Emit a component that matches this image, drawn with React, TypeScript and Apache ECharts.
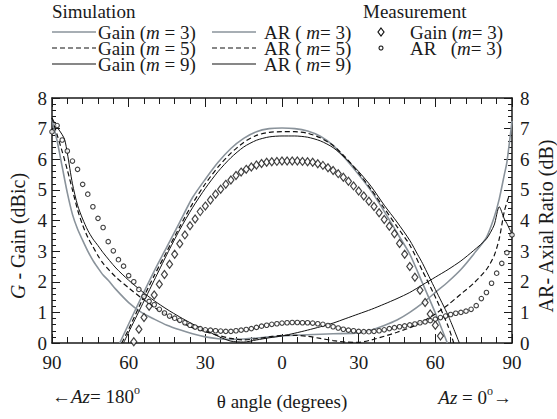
import React, { useEffect, useRef } from "react";
import * as echarts from "echarts";

// ---------- Data (theta in degrees: negative = Az 180 side, positive = Az 0 side) ----------
const xTickLabels = ["90", "60", "30", "0", "30", "60", "90"];

// Simulated gain (dBic)
const gainM3Theta = [-63.5, -60, -55, -50, -45, -40, -35, -30, -25, -20, -15, -10, -5, 0, 5, 10, 15, 20, 25, 30, 35, 40, 45, 50, 55, 60, 64.7];
const gainM3 = [0, 0.62, 1.5, 2.35, 3.15, 3.95, 4.75, 5.35, 5.9, 6.35, 6.68, 6.9, 7.0, 7.02, 7.0, 6.92, 6.75, 6.45, 6.0, 5.5, 4.95, 4.3, 3.6, 2.9, 1.95, 0.98, 0];

const gainM5Theta = [-62.7, -60, -55, -50, -45, -40, -35, -30, -25, -20, -15, -10, -5, 0, 5, 10, 15, 20, 25, 30, 35, 40, 45, 50, 55, 60, 65, 67.2];
const gainM5 = [0, 0.45, 1.35, 2.2, 3.0, 3.8, 4.55, 5.2, 5.75, 6.2, 6.55, 6.78, 6.88, 6.9, 6.9, 6.85, 6.7, 6.45, 6.05, 5.55, 5.0, 4.4, 3.8, 3.2, 2.35, 1.5, 0.55, 0];

const gainM9Theta = [-62, -60, -55, -50, -45, -40, -35, -30, -25, -20, -15, -10, -5, 0, 5, 10, 15, 20, 25, 30, 35, 40, 45, 50, 53, 55, 60, 65, 69.4];
const gainM9 = [0, 0.35, 1.2, 2.05, 2.9, 3.7, 4.42, 5.05, 5.6, 6.05, 6.4, 6.62, 6.73, 6.76, 6.76, 6.72, 6.6, 6.38, 6.02, 5.6, 5.1, 4.5, 3.95, 3.35, 2.9, 2.6, 1.75, 0.9, 0];

// Simulated axial ratio (dB)
const arM3Theta = [-90, -88, -86, -84, -82, -80, -78, -76, -74, -72, -70, -68, -65, -60, -55, -50, -45, -40, -35, -30, -25, -20, -15, -10, -5, 0, 10, 20, 30, 35, 40, 45, 50, 55, 60, 65, 70, 75, 80, 83, 85, 87, 88, 90];
const arM3 = [7.3, 6.6, 5.75, 4.9, 4.2, 3.72, 3.35, 3.0, 2.7, 2.45, 2.22, 2.05, 1.75, 1.32, 1.0, 0.78, 0.58, 0.43, 0.3, 0.2, 0.14, 0.12, 0.13, 0.16, 0.2, 0.23, 0.27, 0.3, 0.33, 0.42, 0.57, 0.75, 1.0, 1.3, 1.65, 2.0, 2.4, 2.9, 3.45, 4.1, 4.7, 5.5, 5.9, 7.25];

const arM5Theta = [-90, -88, -86, -84, -82, -80, -78, -76, -74, -72, -70, -65, -60, -55, -50, -45, -40, -35, -30, -25, -20, -15, -10, -5, 0, 5, 10, 15, 20, 25, 30, 35, 40, 45, 50, 55, 60, 65, 70, 75, 80, 83, 85, 87, 89];
const arM5 = [7.35, 6.8, 6.25, 5.65, 5.0, 4.35, 3.85, 3.45, 3.15, 2.85, 2.6, 2.15, 1.8, 1.47, 1.17, 0.92, 0.7, 0.5, 0.37, 0.25, 0.15, 0.1, 0.14, 0.2, 0.25, 0.25, 0.22, 0.15, 0.08, 0.03, 0.02, 0.1, 0.22, 0.35, 0.5, 0.7, 0.95, 1.25, 1.6, 1.95, 2.4, 2.85, 3.4, 4.3, 4.85];

const arM9Theta = [-90, -88, -86, -85, -84, -82, -80, -78, -76, -74, -72, -70, -65, -60, -55, -50, -45, -40, -35, -30, -25, -20, -15, -10, -5, 0, 5, 10, 15, 20, 25, 30, 35, 40, 45, 50, 55, 60, 65, 70, 75, 80, 83, 85, 87, 88, 90];
const arM9 = [7.35, 7.05, 6.8, 6.63, 6.2, 5.2, 4.5, 4.05, 3.68, 3.4, 3.18, 2.95, 2.45, 2.05, 1.7, 1.38, 1.1, 0.85, 0.62, 0.42, 0.22, 0.06, 0.03, 0.1, 0.17, 0.23, 0.32, 0.42, 0.53, 0.65, 0.8, 0.95, 1.1, 1.27, 1.45, 1.65, 1.9, 2.15, 2.4, 2.68, 3.02, 3.4, 3.85, 4.45, 4.05, 3.9, 3.55];

// Measured gain (m = 3)
const measGainTheta = [-58, -56, -54, -52, -50, -48, -46, -44, -42, -40, -38, -36, -34, -32, -30, -28, -26, -24, -22, -20, -18, -16, -14, -12, -10, -8, -6, -4, -2, 0, 2, 4, 6, 8, 10, 12, 14, 16, 18, 20, 22, 24, 26, 28, 30, 32, 34, 36, 38, 40, 42, 44, 46, 48, 50, 52, 54, 56, 58, 60, 62];
const measGain = [0.04, 0.45, 0.83, 1.2, 1.57, 1.92, 2.24, 2.57, 2.9, 3.24, 3.53, 3.83, 4.05, 4.29, 4.47, 4.67, 4.86, 5.02, 5.18, 5.32, 5.47, 5.58, 5.67, 5.75, 5.81, 5.86, 5.9, 5.92, 5.93, 5.94, 5.94, 5.94, 5.94, 5.93, 5.92, 5.9, 5.85, 5.8, 5.72, 5.63, 5.53, 5.41, 5.28, 5.13, 4.96, 4.8, 4.63, 4.46, 4.25, 4.03, 3.81, 3.57, 3.25, 2.9, 2.5, 2.15, 1.72, 1.32, 0.95, 0.58, 0.23];

// Measured AR (m = 3)
const measArTheta = [-90, -88, -86, -84, -82, -80, -78, -76, -74, -72, -70, -68, -66, -64, -62, -60, -58, -56, -54, -52, -50, -48, -46, -44, -42, -40, -38, -36, -34, -32, -30, -28, -26, -24, -22, -20, -18, -16, -14, -12, -10, -8, -6, -4, -2, 0, 2, 4, 6, 8, 10, 12, 14, 16, 18, 20, 22, 24, 26, 28, 30, 32, 34, 36, 38, 40, 42, 44, 46, 48, 50, 52, 54, 56, 58, 60, 62, 64, 66, 68, 70, 72, 74, 76, 78, 80, 82, 84, 86, 88, 90];
const measAr = [6.9, 7.1, 6.63, 6.27, 5.94, 5.67, 5.18, 4.86, 4.45, 4.07, 3.77, 3.31, 3.01, 2.72, 2.51, 2.2, 2.0, 1.75, 1.52, 1.36, 1.25, 1.1, 0.98, 0.88, 0.81, 0.74, 0.66, 0.58, 0.52, 0.47, 0.43, 0.42, 0.4, 0.39, 0.38, 0.38, 0.4, 0.42, 0.44, 0.47, 0.51, 0.55, 0.58, 0.61, 0.63, 0.65, 0.66, 0.67, 0.67, 0.66, 0.66, 0.65, 0.63, 0.61, 0.57, 0.53, 0.49, 0.45, 0.42, 0.4, 0.38, 0.37, 0.37, 0.38, 0.4, 0.43, 0.47, 0.5, 0.53, 0.56, 0.59, 0.62, 0.66, 0.69, 0.73, 0.78, 0.83, 0.88, 0.93, 0.97, 1.0, 1.04, 1.1, 1.22, 1.45, 1.65, 1.95, 2.28, 2.6, 2.95, 3.53];

// ---------- Styling ----------
const FONT = "Liberation Serif, DejaVu Serif, Liberation Sans, sans-serif";
const INK = "#1a1a1a";
const GRAY = "#8a939b";
const FS = 19; // axis / title text
const LFS = 19; // legend text

const zip = (xs: number[], ys: number[]) => xs.map((x, i) => [x, ys[i]]);

export default function App() {
  const ref = useRef<HTMLDivElement>(null);

  useEffect(() => {
    document.body.style.margin = "0";
    if (!ref.current) return;
    const chart = echarts.init(ref.current, null, { renderer: "svg" });

    const baseX = {
      type: "value",
      min: -90,
      max: 90,
      interval: 30,
      splitLine: { show: false },
      axisLine: { onZero: false, lineStyle: { color: INK, width: 1.5 } },
      axisTick: { inside: true, length: 9, lineStyle: { color: INK, width: 1 } },
      minorTick: { show: true, splitNumber: 5, length: 6, lineStyle: { color: INK, width: 1 } },
    };
    const baseY = {
      type: "value",
      min: 0,
      max: 8,
      interval: 1,
      splitLine: { show: false },
      axisLine: { onZero: false, lineStyle: { color: INK, width: 1.5 } },
      axisTick: { inside: true, length: 8, lineStyle: { color: INK, width: 1 } },
      minorTick: { show: true, splitNumber: 5, length: 4, lineStyle: { color: INK, width: 1 } },
      axisLabel: { fontFamily: FONT, fontSize: FS, color: INK, margin: 5 },
    };

    const lineSeries = (name: string, xs: number[], ys: number[], yIdx: number, color: string, width: number, dashed: boolean, z: number) => ({
      name,
      type: "line",
      xAxisIndex: 0,
      yAxisIndex: yIdx,
      data: zip(xs, ys),
      showSymbol: false,
      symbol: "none",
      smooth: 0.25,
      z,
      lineStyle: { color, width, type: dashed ? [5, 3] : "solid" },
    });

    const lg = {
      n: { fontFamily: FONT, fontSize: LFS, fill: INK, lineHeight: 15 },
      i: { fontFamily: FONT, fontSize: LFS, fontStyle: "italic", fill: INK, lineHeight: 15 },
    };

    const legendRow = (y: number, lineType: "gray" | "dash" | "solid", m: string) => {
      const color = lineType === "gray" ? GRAY : "#111";
      const width = lineType === "gray" ? 1.6 : 1.1;
      const dash = lineType === "dash" ? [5, 3] : null;
      return [
        { type: "line", shape: { x1: 52, y1: y, x2: 96, y2: y }, style: { stroke: color, lineWidth: width, lineDash: dash } },
        { type: "text", x: 98, y, style: { text: `{n|Gain (}{i|m}{n| = ${m})}`, verticalAlign: "middle", rich: lg } },
        { type: "line", shape: { x1: 212, y1: y, x2: 256, y2: y }, style: { stroke: color, lineWidth: width, lineDash: dash } },
        { type: "text", x: 264, y, style: { text: `{n|AR ( }{i|m}{n|= ${m})}`, verticalAlign: "middle", rich: lg } },
      ];
    };

    const richBase = {
      n: { fontFamily: FONT, fontSize: FS, fill: INK, verticalAlign: "middle", lineHeight: 24 },
      i: { fontFamily: FONT, fontSize: FS, fontStyle: "italic", fill: INK, verticalAlign: "middle", lineHeight: 24 },
      s: { fontFamily: FONT, fontSize: 12, fill: INK, verticalAlign: "top", lineHeight: 14 },
    };
    const richTitle = {
      n: { fontFamily: FONT, fontSize: 20, fill: INK },
      i: { fontFamily: FONT, fontSize: 20, fontStyle: "italic", fill: INK },
    };

    const option = {
      animation: false,
      backgroundColor: "#ffffff",
      textStyle: { fontFamily: FONT },
      grid: { left: 52, right: 45, top: 98, bottom: 76, containLabel: false },
      xAxis: [
        {
          ...baseX,
          position: "bottom",
          axisLabel: {
            fontFamily: FONT,
            fontSize: FS,
            color: INK,
            margin: 10,
            formatter: (v: number) => xTickLabels[Math.round((v + 90) / 30)] ?? String(Math.abs(v)),
          },
        },
        { ...baseX, position: "top", axisLabel: { show: false } },
      ],
      yAxis: [
        { ...baseY, position: "left" },
        { ...baseY, position: "right", axisLabel: { ...baseY.axisLabel, margin: 8 } },
      ],
      series: [
        lineSeries("Gain m=3", gainM3Theta, gainM3, 0, GRAY, 1.6, false, 2),
        lineSeries("AR m=3", arM3Theta, arM3, 1, GRAY, 1.6, false, 2),
        lineSeries("Gain m=5", gainM5Theta, gainM5, 0, "#111", 1.2, true, 3),
        lineSeries("AR m=5", arM5Theta, arM5, 1, "#111", 1.2, true, 3),
        lineSeries("Gain m=9", gainM9Theta, gainM9, 0, "#111", 1.0, false, 4),
        lineSeries("AR m=9", arM9Theta, arM9, 1, "#111", 1.0, false, 4),
        {
          name: "Measured Gain",
          type: "scatter",
          xAxisIndex: 0,
          yAxisIndex: 0,
          data: zip(measGainTheta, measGain),
          symbol: "diamond",
          symbolSize: [6, 8],
          z: 5,
          itemStyle: { color: "#ffffff", borderColor: "#111", borderWidth: 1.2 },
        },
        {
          name: "Measured AR",
          type: "scatter",
          xAxisIndex: 0,
          yAxisIndex: 1,
          data: zip(measArTheta, measAr),
          symbol: "circle",
          symbolSize: 4.5,
          z: 5,
          itemStyle: { color: "#ffffff", borderColor: "#111", borderWidth: 1.1 },
        },
      ],
      graphic: [
        { type: "text", x: 52, y: 11, style: { text: "Simulation", fontFamily: FONT, fontSize: LFS, fill: INK, verticalAlign: "middle" } },
        { type: "text", x: 363, y: 11, style: { text: "Measurement", fontFamily: FONT, fontSize: LFS, fill: INK, verticalAlign: "middle" } },
        ...legendRow(32, "gray", "3"),
        ...legendRow(48, "dash", "5"),
        ...legendRow(64, "solid", "9"),
        { type: "polygon", shape: { points: [[381, 28], [384, 32], [381, 36], [378, 32]] }, style: { fill: "#fff", stroke: "#111", lineWidth: 1.2 } },
        { type: "text", x: 410, y: 32, style: { text: "{n|Gain (}{i|m}{n|= 3)}", verticalAlign: "middle", rich: lg } },
        { type: "circle", shape: { cx: 381, cy: 48, r: 2 }, style: { fill: "#fff", stroke: "#111", lineWidth: 1.1 } },
        { type: "text", x: 410, y: 48, style: { text: "{n|AR   (}{i|m}{n|= 3)}", verticalAlign: "middle", rich: lg } },
        // Y-axis titles
        {
          type: "text",
          x: 18,
          y: 236,
          rotation: Math.PI / 2,
          style: { text: "{i|G}{n| - Gain (dBic)}", align: "center", verticalAlign: "middle", rich: richTitle },
        },
        {
          type: "text",
          x: 546,
          y: 226,
          rotation: Math.PI / 2,
          style: { text: "AR- Axial Ratio (dB)", fontFamily: FONT, fontSize: 20, fill: INK, align: "center", verticalAlign: "middle" },
        },
        // X-axis titles
        {
          type: "text",
          x: 282,
          y: 401,
          style: { text: "θ angle (degrees)", fontFamily: FONT, fontSize: FS, fill: INK, align: "center", verticalAlign: "middle" },
        },
        {
          type: "text",
          x: 52,
          y: 396,
          style: { text: "{n|←}{i|Az}{n|= 180}{s|o}", align: "left", verticalAlign: "middle", rich: richBase },
        },
        {
          type: "text",
          x: 512,
          y: 397,
          style: { text: "{i|Az}{n| = 0}{s|o}{n|→}", align: "right", verticalAlign: "middle", rich: richBase },
        },
      ],
    };

    chart.setOption(option as any);
    return () => chart.dispose();
  }, []);

  return <div ref={ref} style={{ width: 557, height: 419 }} />;
}
